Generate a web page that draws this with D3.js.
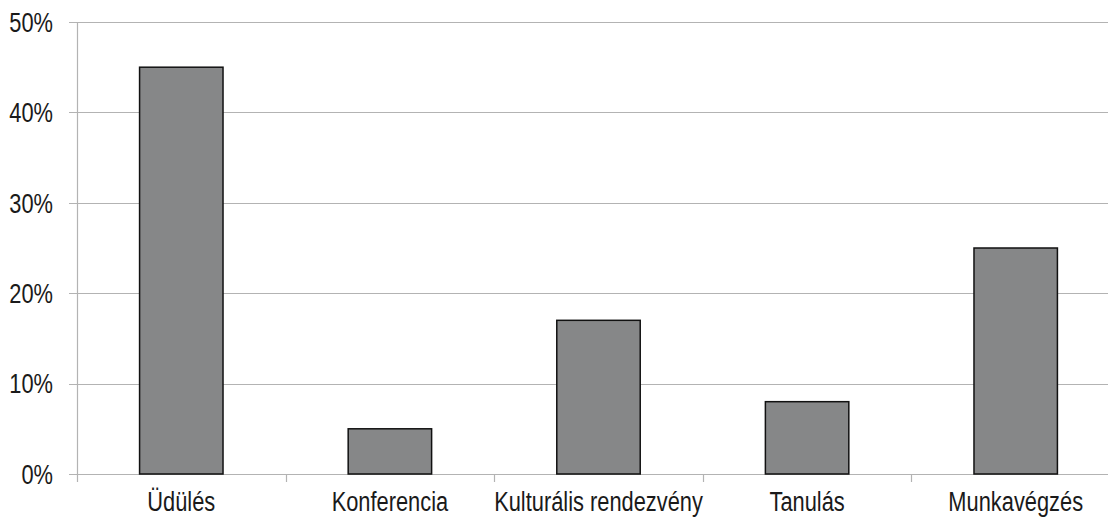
<!DOCTYPE html>
<html><head><meta charset="utf-8">
<script src="https://cdn.jsdelivr.net/npm/d3@7"></script>
<style>
html,body{margin:0;padding:0;background:#fff;}
svg text{font-family:"Liberation Sans Narrow","Arial Narrow","Liberation Sans",Arial,sans-serif;fill:#1a1a1a;}
</style></head>
<body>
<svg id="chart" width="1108" height="520"></svg>
<script>
const categories = ["Üdülés","Konferencia","Kulturális rendezvény","Tanulás","Munkavégzés"];
const values = [45, 5, 17, 8, 25];
const yTicks = [0, 10, 20, 30, 40, 50];

const svg = d3.select("#chart");
const margin = {left: 77, right: -12, top: 22, bottom: 46};
const W = 1108, H = 520;
const x0 = margin.left, x1 = W - margin.right;
const yTop = margin.top, yBot = H - margin.bottom;
const FS = 28, SX = 0.78;

const x = d3.scaleBand().domain(categories).range([x0, x1]).paddingInner(0.6).paddingOuter(0.3);
const xb = d3.scaleBand().domain(categories).range([x0, x1]);
const y = d3.scaleLinear().domain([0, 50]).range([yBot, yTop]);

svg.append("g").selectAll("line").data(yTicks).join("line")
  .attr("x1", x0 - 8).attr("x2", x1)
  .attr("y1", d => Math.round(y(d)) + 0.5).attr("y2", d => Math.round(y(d)) + 0.5)
  .attr("stroke", "#b3b3b3").attr("stroke-width", 1.2);

svg.append("line").attr("x1", x0 + 0.5).attr("x2", x0 + 0.5)
  .attr("y1", yTop).attr("y2", yBot + 8)
  .attr("stroke", "#b3b3b3").attr("stroke-width", 1.2);

svg.append("g").selectAll("line").data(categories.slice(1)).join("line")
  .attr("x1", d => Math.round(xb(d)) + 0.5).attr("x2", d => Math.round(xb(d)) + 0.5)
  .attr("y1", yBot).attr("y2", yBot + 8)
  .attr("stroke", "#b3b3b3").attr("stroke-width", 1.2);

svg.append("g").selectAll("text").data(yTicks).join("text")
  .attr("transform", d => `translate(53,${y(d)}) scale(${SX},1)`)
  .attr("dy", "0.35em")
  .attr("text-anchor", "end").attr("font-size", FS)
  .text(d => d + "%");

svg.append("g").selectAll("rect").data(values).join("rect")
  .attr("x", (d, i) => x(categories[i]))
  .attr("width", x.bandwidth())
  .attr("y", d => y(d))
  .attr("height", d => yBot - y(d))
  .attr("fill", "#868788").attr("stroke", "#111").attr("stroke-width", 1.5);

svg.append("g").selectAll("text").data(categories).join("text")
  .attr("transform", d => `translate(${xb(d) + xb.bandwidth() / 2},${yBot + 37}) scale(${SX},1)`)
  .attr("text-anchor", "middle").attr("font-size", FS)
  .text(d => d);
</script>
</body></html>
